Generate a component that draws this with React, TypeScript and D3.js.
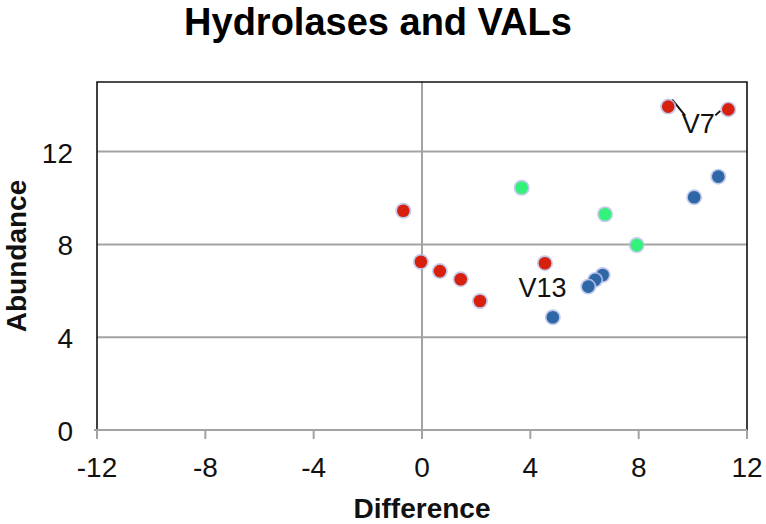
import React from "react";
import * as d3 from "d3";

const W = 766;
const H = 524;

const chartTitle = "Hydrolases and VALs";
const xAxisTitle = "Difference";
const yAxisTitle = "Abundance";

const xTicks = [-12, -8, -4, 0, 4, 8, 12];
const yTicks = [0, 4, 8, 12];

// Red series
const redX = [9.09, 11.31, -0.69, -0.04, 0.66, 1.43, 2.14, 4.54];
const redY = [13.94, 13.82, 9.45, 7.25, 6.85, 6.5, 5.56, 7.19];
// Green series
const greenX = [3.68, 6.76, 7.93];
const greenY = [10.44, 9.3, 7.97];
// Blue series
const blueX = [10.94, 10.05, 6.67, 6.39, 6.14, 4.83];
const blueY = [10.92, 10.03, 6.68, 6.47, 6.18, 4.86];

const seriesColors = ["#d8200f", "#33f27a", "#2f67a6"];

const labelText = ["V7", "V13"];
const labelX = [10.2, 4.45];
const labelY = [12.8, 5.75];

export default function App() {
  const margin = { left: 97, right: 19, top: 82, bottom: 94 };
  const x = d3.scaleLinear().domain([-12, 12]).range([margin.left, W - margin.right]);
  const y = d3.scaleLinear().domain([0, 15]).range([H - margin.bottom, margin.top]);

  const series = [
    { xs: redX, ys: redY, color: seriesColors[0] },
    { xs: greenX, ys: greenY, color: seriesColors[1] },
    { xs: blueX, ys: blueY, color: seriesColors[2] },
  ];

  const font = "'Liberation Sans', Arial, Helvetica, sans-serif";
  const grid = "#a3a3a3";

  const x0 = x.range()[0];
  const x1 = x.range()[1];
  const yb = y(0);
  const yt = y(15);

  return (
    <svg
      width={W}
      height={H}
      style={{ position: "absolute", left: 0, top: 0, background: "#fff" }}
      fontFamily={font}
    >
      <defs>
        <filter id="glow" x="-50%" y="-50%" width="200%" height="200%">
          <feGaussianBlur stdDeviation="0.6" />
        </filter>
      </defs>
      <rect x={0} y={0} width={W} height={H} fill="#fff" />

      {/* gridlines */}
      {yTicks.filter((t) => t !== 0).map((t) => (
        <line key={"gy" + t} x1={x0} x2={x1} y1={y(t)} y2={y(t)} stroke={grid} strokeWidth={2} />
      ))}
      {/* zero vertical line */}
      <line x1={x(0)} x2={x(0)} y1={yt} y2={yb} stroke={grid} strokeWidth={2} />

      {/* frame: left, top, right in black */}
      <path
        d={`M${x0},${yb}V${yt}H${x1}V${yb}`}
        fill="none"
        stroke="#111"
        strokeWidth={1.6}
      />
      {/* x axis line */}
      <line x1={x0 - 3} x2={x1} y1={yb} y2={yb} stroke={grid} strokeWidth={2} />
      {xTicks.map((t) => (
        <line key={"xt" + t} x1={x(t)} x2={x(t)} y1={yb} y2={yb + 9} stroke={grid} strokeWidth={2} />
      ))}

      {/* tick labels */}
      {xTicks.map((t) => (
        <text key={"xl" + t} x={x(t)} y={yb + 47} textAnchor="middle" fontSize={28} fill="#111">
          {t}
        </text>
      ))}
      {yTicks.map((t) => (
        <text key={"yl" + t} x={x0 - 24} y={y(t) + 11} textAnchor="end" fontSize={28} fill="#111">
          {t}
        </text>
      ))}

      {/* leader lines for V7 */}
      <line
        x1={x(redX[0]) + 4}
        y1={y(redY[0]) - 7}
        x2={x(redX[0]) + 17}
        y2={y(redY[0]) + 9}
        stroke="#111"
        strokeWidth={2}
      />
      <line
        x1={x(redX[1]) - 13}
        y1={y(redY[1]) + 6}
        x2={x(redX[1]) - 8}
        y2={y(redY[1]) + 1.5}
        stroke="#111"
        strokeWidth={2}
      />

      {/* points */}
      {series.map((s, si) =>
        s.xs.map((xv, i) => (
          <g key={"p" + si + "-" + i}>
            <circle cx={x(xv)} cy={y(s.ys[i])} r={8} fill="#b9c3ea" opacity={0.85} filter="url(#glow)" />
            <circle cx={x(xv)} cy={y(s.ys[i])} r={6.3} fill={s.color} />
          </g>
        ))
      )}

      {/* annotations */}
      {labelText.map((t, i) => (
        <text key={"lab" + t} x={x(labelX[i])} y={y(labelY[i])} textAnchor="middle" fontSize={27} fill="#111">
          {t}
        </text>
      ))}

      {/* titles */}
      <text x={378} y={35} textAnchor="middle" fontSize={38} fontWeight="bold" fill="#000">
        {chartTitle}
      </text>
      <text x={(x0 + x1) / 2} y={518} textAnchor="middle" fontSize={28} fontWeight="bold" fill="#111">
        {xAxisTitle}
      </text>
      <text
        transform={`translate(26,${(yb + yt) / 2}) rotate(-90)`}
        textAnchor="middle"
        fontSize={28}
        fontWeight="bold"
        fill="#111"
      >
        {yAxisTitle}
      </text>
    </svg>
  );
}
